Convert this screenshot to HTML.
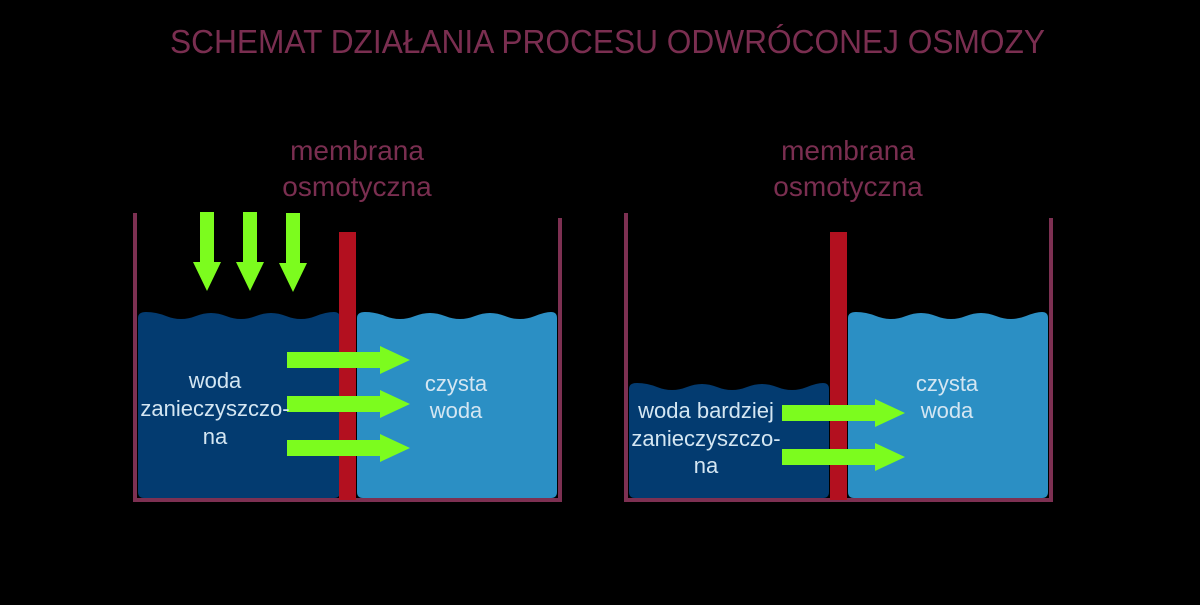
<!DOCTYPE html>
<html><head><meta charset="utf-8"><style>
html,body{margin:0;padding:0;background:#000;width:1200px;height:605px;overflow:hidden}
svg{display:block}
text{font-family:"Liberation Sans",sans-serif}
</style></head><body>
<svg width="1200" height="605" viewBox="0 0 1200 605" xmlns="http://www.w3.org/2000/svg">
<rect width="1200" height="605" fill="#000"/>
<text x="170" y="53" font-size="33" fill="#7a2e50" textLength="875" lengthAdjust="spacingAndGlyphs" style="font-family:'Liberation Sans Narrow','Liberation Sans',sans-serif">SCHEMAT DZIAŁANIA PROCESU ODWRÓCONEJ OSMOZY</text>

<g fill="#7a2e50" font-size="28" text-anchor="middle">
<text x="357" y="160">membrana</text><text x="357" y="196">osmotyczna</text>
<text x="848" y="160">membrana</text><text x="848" y="196">osmotyczna</text>
</g>

<defs>
<g id="arrR"><polygon points="0,-8 93,-8 93,-14 123,0 93,14 93,8 0,8" fill="#7cfc1e"/></g>
<g id="arrD"><polygon points="-7,0 7,0 7,50 14,50 0,79 -14,50 -7,50" fill="#7cfc1e"/></g>
</defs>

<!-- left -->
<path d="M135 213 V500 H560 V218" fill="none" stroke="#7d3052" stroke-width="4"/>
<path d="M138 318 q0-6 8-6 q10 0 20 4 q15 6 30 0 q15-6 30 0 q15 6 30 0 q15-6 30 0 q15 6 30 0 q10-4 18-4 q6 0 6 6 V492 q0 6-6 6 H144 q-6 0-6-6Z" fill="#033b70"/>
<path d="M357 318 q0-6 8-6 q10 0 20 4 q15 6 30 0 q15-6 30 0 q15 6 30 0 q15-6 30 0 q15 6 30 0 q10-4 16-4 q6 0 6 6 V492 q0 6-6 6 H363 q-6 0-6-6Z" fill="#2b8fc4"/>
<rect x="339" y="232" width="17" height="268" fill="#b3101f"/>
<use href="#arrD" x="207" y="212"/><use href="#arrD" x="250" y="212"/><use href="#arrD" x="293" y="213"/>
<use href="#arrR" x="287" y="360"/><use href="#arrR" x="287" y="404"/><use href="#arrR" x="287" y="448"/>
<g fill="#d4e6f2" font-size="22" text-anchor="middle">
<text x="215" y="388">woda</text><text x="215" y="416">zanieczyszczo-</text><text x="215" y="444">na</text>
<text x="456" y="391">czysta</text><text x="456" y="418">woda</text>
</g>

<!-- right -->
<path d="M626 213 V500 H1051 V218" fill="none" stroke="#7d3052" stroke-width="4"/>
<path d="M629 389 q0-6 8-6 q10 0 20 4 q15 6 30 0 q15-6 30 0 q15 6 30 0 q15-6 30 0 q15 6 30 0 q10-4 16-4 q6 0 6 6 V492 q0 6-6 6 H635 q-6 0-6-6Z" fill="#033b70"/>
<path d="M848 318 q0-6 8-6 q10 0 20 4 q15 6 30 0 q15-6 30 0 q15 6 30 0 q15-6 30 0 q15 6 30 0 q10-4 16-4 q6 0 6 6 V492 q0 6-6 6 H854 q-6 0-6-6Z" fill="#2b8fc4"/>
<rect x="830" y="232" width="17" height="268" fill="#b3101f"/>
<use href="#arrR" x="782" y="413"/><use href="#arrR" x="782" y="457"/>
<g fill="#d4e6f2" font-size="22" text-anchor="middle">
<text x="706" y="418">woda bardziej</text><text x="706" y="446">zanieczyszczo-</text><text x="706" y="473">na</text>
<text x="947" y="391">czysta</text><text x="947" y="418">woda</text>
</g>
</svg>
</body></html>
